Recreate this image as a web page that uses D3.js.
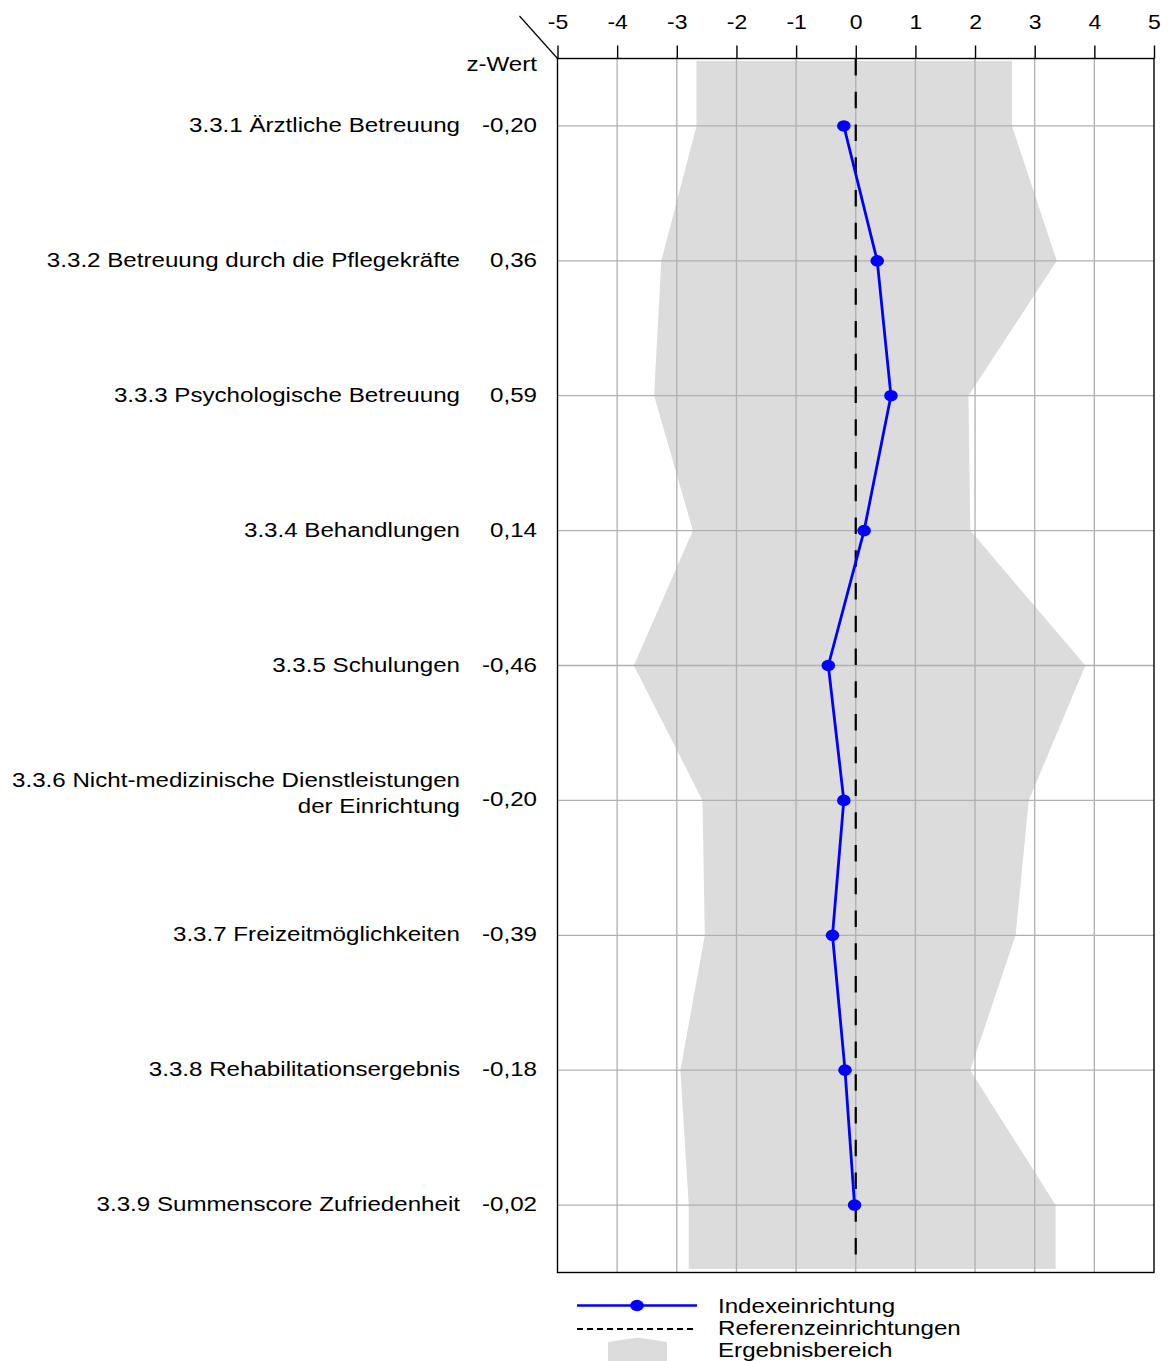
<!DOCTYPE html>
<html>
<head>
<meta charset="utf-8">
<script src="https://cdn.jsdelivr.net/npm/d3@7"></script>
<style>
  body { margin: 0; background: #fff; }
  text { font-family: "Liberation Sans", Arial, sans-serif; fill: #000; }
</style>
</head>
<body>
<div id="chart"></div>
<script>
// categories (multi-line labels split by \n)
const categories = [
  "3.3.1 Ärztliche Betreuung",
  "3.3.2 Betreuung durch die Pflegekräfte",
  "3.3.3 Psychologische Betreuung",
  "3.3.4 Behandlungen",
  "3.3.5 Schulungen",
  "3.3.6 Nicht-medizinische Dienstleistungen\nder Einrichtung",
  "3.3.7 Freizeitmöglichkeiten",
  "3.3.8 Rehabilitationsergebnis",
  "3.3.9 Summenscore Zufriedenheit"
];
const zValues = [-0.20, 0.36, 0.59, 0.14, -0.46, -0.20, -0.39, -0.18, -0.02];
const zLabels = ["-0,20", "0,36", "0,59", "0,14", "-0,46", "-0,20", "-0,39", "-0,18", "-0,02"];
// Ergebnisbereich (grey band), left and right edge per row
const rangeLow  = [-2.67, -3.26, -3.38, -2.73, -3.72, -2.57, -2.53, -2.94, -2.80];
const rangeHigh = [ 2.62,  3.37,  1.89,  1.92,  3.85,  2.90,  2.68,  1.92,  3.35];
const xTicks = [-5, -4, -3, -2, -1, 0, 1, 2, 3, 4, 5];
const legendItems = ["Indexeinrichtung", "Referenzeinrichtungen", "Ergebnisbereich"];

const W = 1171, H = 1361;
const plot = { left: 557.5, right: 1154, top: 58.5, bottom: 1272.5 };
const FS = 21, SX = 1.15; // font size and horizontal stretch of the original

const svg = d3.select("#chart").append("svg")
  .attr("width", W).attr("height", H);

// stretched text helper
function label(g, tx, ty, str, anchor) {
  return g.append("g").attr("transform", `translate(${tx},${ty}) scale(${SX},1)`)
    .append("text").attr("text-anchor", anchor || "end").attr("font-size", FS).text(str);
}

const x = d3.scaleLinear().domain([-5, 5]).range([plot.left, plot.right]);
const y = d3.scaleBand().domain(d3.range(categories.length))
  .range([plot.top, plot.bottom]).paddingInner(0).paddingOuter(0);
const yc = i => y(i) + y.bandwidth() / 2;

// grey result band
const bandPts = [];
bandPts.push([rangeLow[0], plot.top + 2.5]);
rangeLow.forEach((v, i) => bandPts.push([v, yc(i)]));
bandPts.push([rangeLow[rangeLow.length - 1], plot.bottom - 3.5]);
bandPts.push([rangeHigh[rangeHigh.length - 1], plot.bottom - 3.5]);
for (let i = rangeHigh.length - 1; i >= 0; i--) bandPts.push([rangeHigh[i], yc(i)]);
bandPts.push([rangeHigh[0], plot.top + 2.5]);
svg.append("path")
  .attr("d", "M" + bandPts.map(p => [x(p[0]), p[1]].join(",")).join("L") + "Z")
  .attr("fill", "#dcdcdc");

// grid
svg.append("g").selectAll("line").data(xTicks.slice(1, -1)).join("line")
  .attr("x1", d => x(d)).attr("x2", d => x(d))
  .attr("y1", plot.top).attr("y2", plot.bottom)
  .attr("stroke", "#b0b0b0").attr("stroke-width", 1.3);
svg.append("g").selectAll("line").data(d3.range(categories.length)).join("line")
  .attr("x1", plot.left).attr("x2", plot.right)
  .attr("y1", d => yc(d)).attr("y2", d => yc(d))
  .attr("stroke", "#b0b0b0").attr("stroke-width", 1.3);

// reference line at 0
svg.append("line")
  .attr("x1", x(0)).attr("x2", x(0))
  .attr("y1", plot.top + 0.5).attr("y2", plot.bottom - 15)
  .attr("stroke", "#000").attr("stroke-width", 2.2)
  .attr("stroke-dasharray", "16.5,16.25");

// frame + top axis
svg.append("rect")
  .attr("x", plot.left).attr("y", plot.top)
  .attr("width", plot.right - plot.left).attr("height", plot.bottom - plot.top)
  .attr("fill", "none").attr("stroke", "#000").attr("stroke-width", 1.4);

const axisTop = d3.axisTop(x).tickValues(xTicks).tickSize(13).tickPadding(17)
  .tickFormat(d => d3.format("d")(d).replace("−", "-"));
const ga = svg.append("g").attr("transform", `translate(0,${plot.top})`).call(axisTop);
ga.select(".domain").remove();
ga.selectAll(".tick line").attr("stroke", "#000").attr("stroke-width", 1.4);
ga.selectAll(".tick text").attr("font-size", FS - 1)
  .attr("font-family", "Liberation Sans, Arial, sans-serif")
  .attr("transform", `scale(${SX},1)`);

// diagonal corner line
svg.append("line")
  .attr("x1", plot.left - 38).attr("y1", 16)
  .attr("x2", plot.left).attr("y2", plot.top)
  .attr("stroke", "#000").attr("stroke-width", 1.2);

// header z-Wert
label(svg, 537, yc(0) - 55, "z-Wert");

// category + value labels
const labels = svg.append("g");
categories.forEach((c, i) => {
  const lines = c.split("\n");
  lines.forEach((ln, k) => {
    const off = lines.length > 1 ? (k - (lines.length - 1) / 2) * 26 - 6 : 0;
    label(labels, 460, yc(i) + 6 + off, ln);
  });
  label(labels, 537, yc(i) + 6, zLabels[i]);
});

// Indexeinrichtung line + points
svg.append("path").datum(zValues)
  .attr("fill", "none").attr("stroke", "#0000ff").attr("stroke-width", 2.8)
  .attr("d", d3.line().x(d => x(d)).y((d, i) => yc(i)));
svg.append("g").selectAll("ellipse").data(zValues).join("ellipse")
  .attr("cx", d => x(d)).attr("cy", (d, i) => yc(i)).attr("rx", 6.8).attr("ry", 5.8)
  .attr("fill", "#0000ff");

// legend
const lg = svg.append("g");
const lx0 = 577, lx1 = 697, ltx = 718;
lg.append("line").attr("x1", lx0).attr("x2", lx1).attr("y1", 1305.5).attr("y2", 1305.5)
  .attr("stroke", "#0000ff").attr("stroke-width", 2.4);
lg.append("ellipse").attr("cx", (lx0 + lx1) / 2).attr("cy", 1305.5).attr("rx", 6.8).attr("ry", 5.8).attr("fill", "#0000ff");
lg.append("line").attr("x1", lx0).attr("x2", lx1).attr("y1", 1329).attr("y2", 1329)
  .attr("stroke", "#000").attr("stroke-width", 2).attr("stroke-dasharray", "6,4");
lg.append("path")
  .attr("d", `M608,1342 L638,1337.5 L667,1342 L667,1361 L608,1361 Z`)
  .attr("fill", "#dcdcdc");
legendItems.forEach((t, i) => {
  label(lg, ltx, 1313 + i * 22, t, "start");
});
</script>
</body>
</html>
